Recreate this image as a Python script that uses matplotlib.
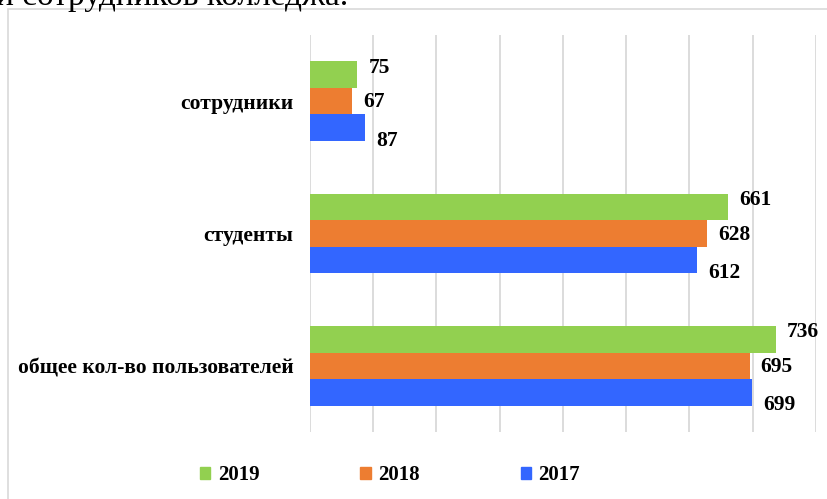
import matplotlib
matplotlib.use("Agg")
import matplotlib.pyplot as plt
from matplotlib.patches import Rectangle
import numpy as np

categories = ["общее кол-во пользователей", "студенты", "сотрудники"]
years = ["2019", "2018", "2017"]
values_2019 = [736, 661, 75]
values_2018 = [695, 628, 67]
values_2017 = [699, 612, 87]
colors = {"2019": "#92D050", "2018": "#ED7D31", "2017": "#3366FF"}

plt.rcParams["font.family"] = ["Liberation Serif", "DejaVu Serif"]

fig = plt.figure(figsize=(8.28, 4.99), dpi=100)
ax = fig.add_axes([310/828, 1-432/499, (816-310)/828, (432-35)/499])

y = np.arange(len(categories))
h = 0.2
series = [("2017", values_2017, -h, 13), ("2018", values_2018, 0, 1), ("2019", values_2019, h, -7)]
for name, vals, off, dy in series:
    bars = ax.barh(y + off, vals, height=h, color=colors[name], label=name, zorder=3)
    for b, v in zip(bars, vals):
        ax.annotate(str(v), (b.get_width(), b.get_y() + b.get_height()/2),
                    xytext=(8, -dy*0.72), textcoords="offset points",
                    ha="left", va="center", fontsize=15.5, fontweight="bold", color="black")

ax.set_xlim(0, 800)
ax.set_ylim(-0.5, 2.5)
ax.set_xticks(np.arange(0, 801, 100))
ax.xaxis.grid(True, color="#d9d9d9", linewidth=1.3, zorder=0)
ax.tick_params(axis="x", length=0, labelbottom=False)
ax.tick_params(axis="y", length=0, pad=12)
ax.set_yticks(y)
ax.set_yticklabels(categories, fontsize=15.5, fontweight="bold")
for s in ax.spines.values():
    s.set_visible(False)

handles = [Rectangle((0, 0), 1, 1, color=colors[n]) for n in years]
fig.legend(handles, years, loc="center", bbox_to_anchor=(390/828, 1-475/499), ncol=3,
           frameon=False, prop={"size": 15, "weight": "bold"},
           handlelength=0.5, handleheight=0.5, handletextpad=0.35, columnspacing=4.85)

fig.patches.append(Rectangle((8/828, -0.05), 1.1, 1 - 9/499 + 0.05, transform=fig.transFigure,
                             fill=False, edgecolor="#d9d9d9", linewidth=1.2))
fig.text(-0.005, 1 - 5/499, "и сотрудников колледжа.", fontsize=24, va="baseline", ha="left",
         color="black")

fig.savefig("out.png", dpi=100)
